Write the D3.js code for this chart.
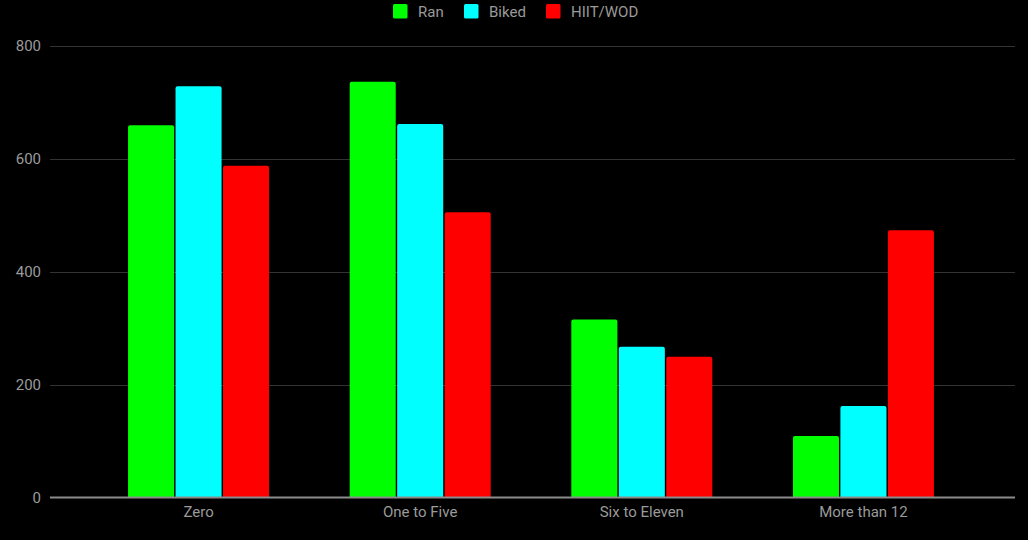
<!DOCTYPE html>
<html><head><meta charset="utf-8">
<script src="https://cdn.jsdelivr.net/npm/d3@7"></script>
<style>html,body{margin:0;padding:0;background:#000;}svg{display:block;}</style>
</head><body>
<svg id="c" width="1028" height="540"></svg>
<script>
const categories = ["Zero", "One to Five", "Six to Eleven", "More than 12"];
const seriesNames = ["Ran", "Biked", "HIIT/WOD"];
const ran = [659, 736, 315, 109];
const biked = [728, 661, 267, 162];
const hiit = [587, 505, 249, 473];
const yTicks = [0, 200, 400, 600, 800];
const colors = ["#00ff00", "#00ffff", "#ff0000"];
const seriesValues = [ran, biked, hiit];

(function () {
const svg = d3.select("#c");
const font = "Roboto, 'Noto Sans', sans-serif";
const textColor = "#9a9a9a";
const plotLeft = 50, plotRight = 1015, plotTop = 45.5, plotBottom = 497.5;

const y = d3.scaleLinear().domain([0, 800]).range([plotBottom, plotTop]);
const x0 = d3.scaleBand().domain(categories).range([87.75, 974.25]);
const groupW = 141;
const x1 = d3.scaleBand().domain(seriesNames).range([0, groupW]).paddingInner(0.03);

// grid
svg.append("g").selectAll("line").data(yTicks.filter(d => d !== 0)).join("line")
  .attr("x1", plotLeft).attr("x2", plotRight)
  .attr("y1", d => Math.round(y(d)) + 0.5).attr("y2", d => Math.round(y(d)) + 0.5)
  .attr("stroke", "#333").attr("stroke-width", 1);

// y labels
svg.append("g").selectAll("text").data(yTicks).join("text")
  .attr("x", 41).attr("y", d => y(d)).attr("dy", "0.35em")
  .attr("text-anchor", "end").attr("fill", textColor)
  .style("font-family", font).style("font-size", "15px")
  .text(d => d);

// bars
const r = 2;
function barPath(x, yTop, w, yBot) {
  const h = yBot - yTop;
  const rr = Math.min(r, h / 2, w / 2);
  return `M${x},${yBot}V${yTop + rr}Q${x},${yTop} ${x + rr},${yTop}H${x + w - rr}Q${x + w},${yTop} ${x + w},${yTop + rr}V${yBot}Z`;
}
const groups = svg.append("g").selectAll("g").data(categories).join("g")
  .attr("transform", c => `translate(${x0(c) + (x0.bandwidth() - groupW) / 2},0)`);
groups.selectAll("path").data((c, i) => seriesNames.map((s, j) => ({s, j, v: seriesValues[j][i]}))).join("path")
  .attr("d", d => barPath(x1(d.s), y(d.v), x1.bandwidth(), y(0)))
  .attr("fill", d => colors[d.j]);

// zero axis line
svg.append("line").attr("x1", plotLeft).attr("x2", plotRight)
  .attr("y1", y(0)).attr("y2", y(0))
  .attr("stroke", "#8c8c8c").attr("stroke-width", 2);

// x labels
svg.append("g").selectAll("text").data(categories).join("text")
  .attr("x", c => x0(c) + x0.bandwidth() / 2).attr("y", 517)
  .attr("text-anchor", "middle").attr("fill", textColor)
  .style("font-family", font).style("font-size", "15px")
  .text(c => c);

// legend
const legendItems = [
  {name: seriesNames[0], x: 393},
  {name: seriesNames[1], x: 464},
  {name: seriesNames[2], x: 546}
];
const lg = svg.append("g").selectAll("g").data(legendItems).join("g")
  .attr("transform", d => `translate(${d.x},4)`);
lg.append("rect").attr("width", 14.5).attr("height", 14.5).attr("rx", 1.5)
  .attr("fill", (d, i) => colors[i]);
lg.append("text").attr("x", 25).attr("y", 7.5).attr("dy", "0.35em")
  .attr("fill", textColor).style("font-family", font).style("font-size", "15px")
  .text(d => d.name);
})();
</script>
</body></html>
